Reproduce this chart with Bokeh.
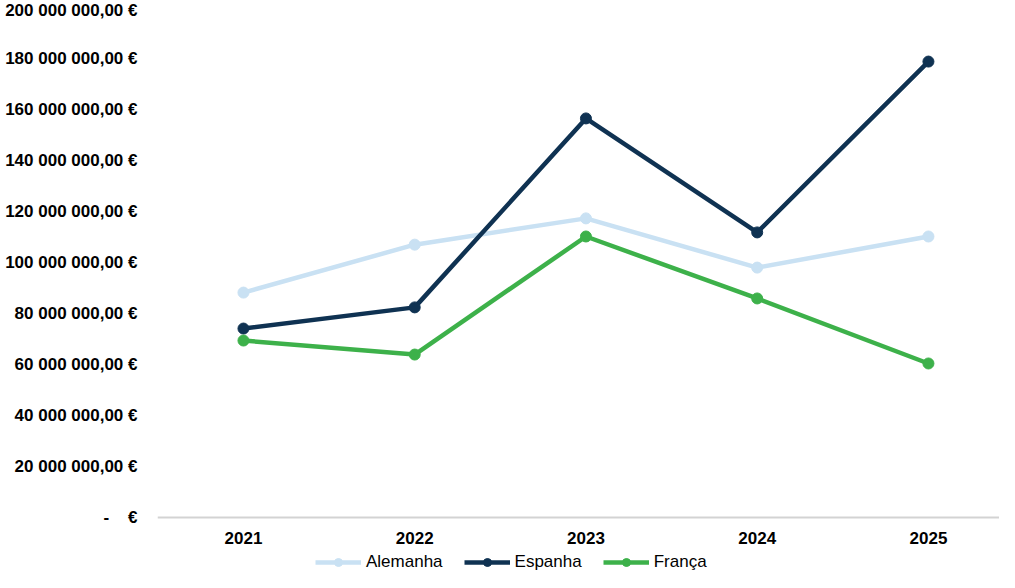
from bokeh.plotting import figure
from bokeh.models import Range1d, FixedTicker, Legend, LegendItem
from bokeh.embed import file_html
from bokeh.resources import INLINE

years = [2021, 2022, 2023, 2024, 2025]
alemanha = [88_200_000, 107_000_000, 117_300_000, 98_000_000, 110_200_000]
espanha = [74_100_000, 82_400_000, 156_500_000, 111_800_000, 178_800_000]
franca = [69_400_000, 63_900_000, 110_200_000, 85_900_000, 60_400_000]
series_names = ["Alemanha", "Espanha", "França"]
colors = ["#C9E1F3", "#0F3252", "#3DB14A"]
y_ticks = list(range(0, 200_000_001, 20_000_000))


def fmt_eur(v):
    if v == 0:
        return "-\u00a0\u00a0\u00a0\u00a0€"
    s = f"{v:,.2f}".replace(",", "\u00a0").replace(".", ",")
    return s + "\u00a0€"


y_labels = {t: fmt_eur(t) for t in y_ticks}

p = figure(width=999, height=572, output_backend="svg", toolbar_location=None,
           x_range=Range1d(2020.498, 2025.415),
           y_range=Range1d(-21_570_000, 201_180_000),
           min_border_left=157, min_border_top=4, min_border_bottom=0,
           min_border_right=0)
p.outline_line_color = None
p.xgrid.grid_line_color = None
p.ygrid.grid_line_color = None

p.xaxis.fixed_location = 0
p.xaxis.ticker = FixedTicker(ticks=years)
p.xaxis.axis_line_color = "#D3D3D3"
p.xaxis.axis_line_width = 2
p.xaxis.major_tick_line_color = None
p.xaxis.minor_tick_line_color = None
p.xaxis.major_tick_out = 0
p.xaxis.major_label_standoff = 15
p.xaxis.major_label_text_font = "Liberation Sans"
p.xaxis.major_label_text_font_style = "bold"
p.xaxis.major_label_text_font_size = "17px"
p.xaxis.major_label_text_color = "#000000"

p.yaxis.ticker = FixedTicker(ticks=y_ticks)
p.yaxis.major_label_overrides = y_labels
p.yaxis.axis_line_color = None
p.yaxis.major_tick_line_color = None
p.yaxis.minor_tick_line_color = None
p.yaxis.major_tick_out = 0
p.yaxis.major_label_standoff = 20
p.yaxis.major_label_text_font = "Liberation Sans"
p.yaxis.major_label_text_font_style = "bold"
p.yaxis.major_label_text_font_size = "17px"
p.yaxis.major_label_text_color = "#000000"

items = []
for name, vals, c in zip(series_names, [alemanha, espanha, franca], colors):
    l = p.line(years, vals, line_color=c, line_width=4.5)
    s = p.scatter(years, vals, size=11, fill_color=c, line_color=c)
    items.append(LegendItem(label=name, renderers=[l, s]))

legend = Legend(items=items, orientation="horizontal", location=(158, 0),
                glyph_width=46, glyph_height=20, label_standoff=5, spacing=21,
                padding=0, margin=0, border_line_color=None,
                background_fill_alpha=0,
                label_text_font="Liberation Sans", label_text_font_size="17px",
                label_text_color="#000000")
p.add_layout(legend, "center")

open("out.html", "w").write(file_html(p, INLINE))
